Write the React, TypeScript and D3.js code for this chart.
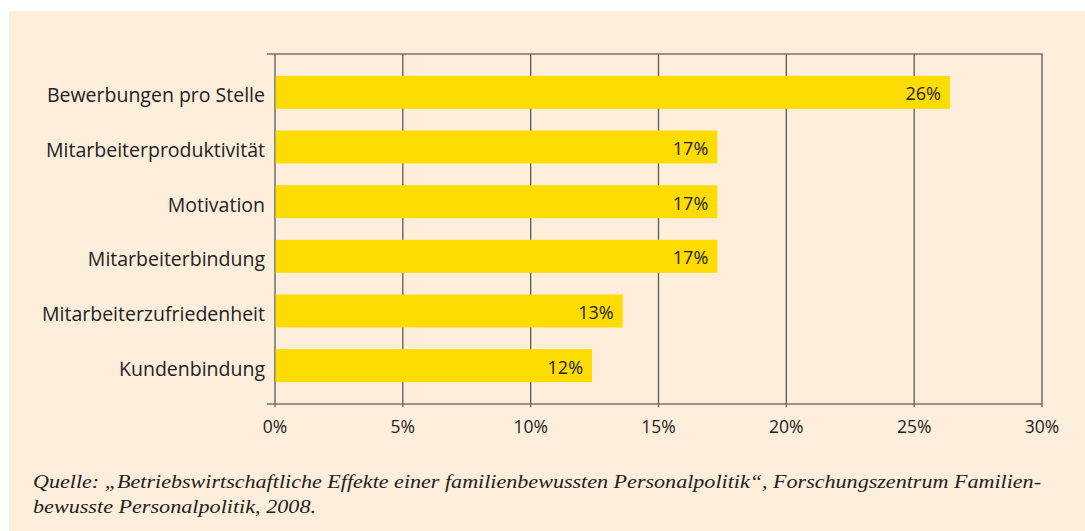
import React, { useEffect, useRef } from "react";
import * as d3 from "d3";

const categories = [
  "Bewerbungen pro Stelle",
  "Mitarbeiterproduktivität",
  "Motivation",
  "Mitarbeiterbindung",
  "Mitarbeiterzufriedenheit",
  "Kundenbindung",
];
const values = [26.4, 17.3, 17.3, 17.3, 13.6, 12.4];
const valueLabels = ["26%", "17%", "17%", "17%", "13%", "12%"];
const xTicks = [0, 5, 10, 15, 20, 25, 30];
const sourceLines = [
  "Quelle: „Betriebswirtschaftliche Effekte einer familienbewussten Personalpolitik“, Forschungszentrum Familien-",
  "bewusste Personalpolitik, 2008.",
];

const W = 1085, H = 531;
const font = "'Open Sans', sans-serif";

const App = () => {
  const ref = useRef<SVGSVGElement>(null);

  useEffect(() => {
    const svg = d3.select(ref.current);
    svg.selectAll("*").remove();

    svg.append("rect").attr("width", W).attr("height", H).attr("fill", "#fff");
    svg.append("rect").attr("x", 9).attr("y", 11).attr("width", W - 9).attr("height", H - 11).attr("fill", "#fdeedb");

    const x = d3.scaleLinear().domain([0, 30]).range([275, 1042]);
    const y = d3.scaleBand().domain(categories).range([54, 404]).paddingInner(0.397).paddingOuter(0.4);

    // grid lines
    svg.append("g").selectAll("line").data(xTicks).join("line")
      .attr("x1", d => x(d)).attr("x2", d => x(d))
      .attr("y1", 54).attr("y2", 407)
      .attr("stroke", "#5e5853").attr("stroke-width", 1.3);

    // top border
    svg.append("line").attr("x1", 267).attr("x2", x(30) + 0.6).attr("y1", 54).attr("y2", 54)
      .attr("stroke", "#7a726b").attr("stroke-width", 1.5);

    // bars
    svg.append("g").selectAll("rect").data(values).join("rect")
      .attr("x", x(0) + 0.7)
      .attr("y", (d, i) => y(categories[i])!)
      .attr("width", d => x(d) - x(0) - 0.7)
      .attr("height", y.bandwidth())
      .attr("fill", "#ffdc00");

    // axis line
    svg.append("line").attr("x1", 267).attr("x2", x(30)).attr("y1", 404).attr("y2", 404)
      .attr("stroke", "#7a726b").attr("stroke-width", 1.5);

    // value labels
    svg.append("g").selectAll("text").data(values).join("text")
      .attr("x", d => x(d) - 9)
      .attr("y", (d, i) => y(categories[i])! + y.bandwidth() / 2 + 8)
      .attr("text-anchor", "end")
      .attr("font-family", font).attr("font-size", 18)
      .attr("fill", "#222")
      .text((d, i) => valueLabels[i]);

    // category labels
    svg.append("g").selectAll("text").data(categories).join("text")
      .attr("x", 265)
      .attr("y", d => y(d)! + y.bandwidth() / 2 + 10)
      .attr("text-anchor", "end")
      .attr("font-family", font).attr("font-size", 19.5)
      .attr("fill", "#222")
      .text(d => d);

    // tick labels
    svg.append("g").selectAll("text").data(xTicks).join("text")
      .attr("x", d => x(d))
      .attr("y", 433)
      .attr("text-anchor", "middle")
      .attr("font-family", font).attr("font-size", 17.5)
      .attr("fill", "#222")
      .text(d => `${d}%`);

    // source
    svg.append("g").selectAll("text").data(sourceLines).join("text")
      .attr("x", 33)
      .attr("y", (d, i) => 488 + i * 25)
      .attr("font-family", "'Liberation Serif', serif")
      .attr("font-style", "italic")
      .attr("font-size", 19)
      .attr("fill", "#222")
      .attr("textLength", (d, i) => (i === 0 ? 1008 : 283))
      .attr("lengthAdjust", "spacingAndGlyphs")
      .text(d => d);
  }, []);

  return <svg ref={ref} width={W} height={H} style={{ position: "absolute", left: 0, top: 0 }} />;
};

export default App;
